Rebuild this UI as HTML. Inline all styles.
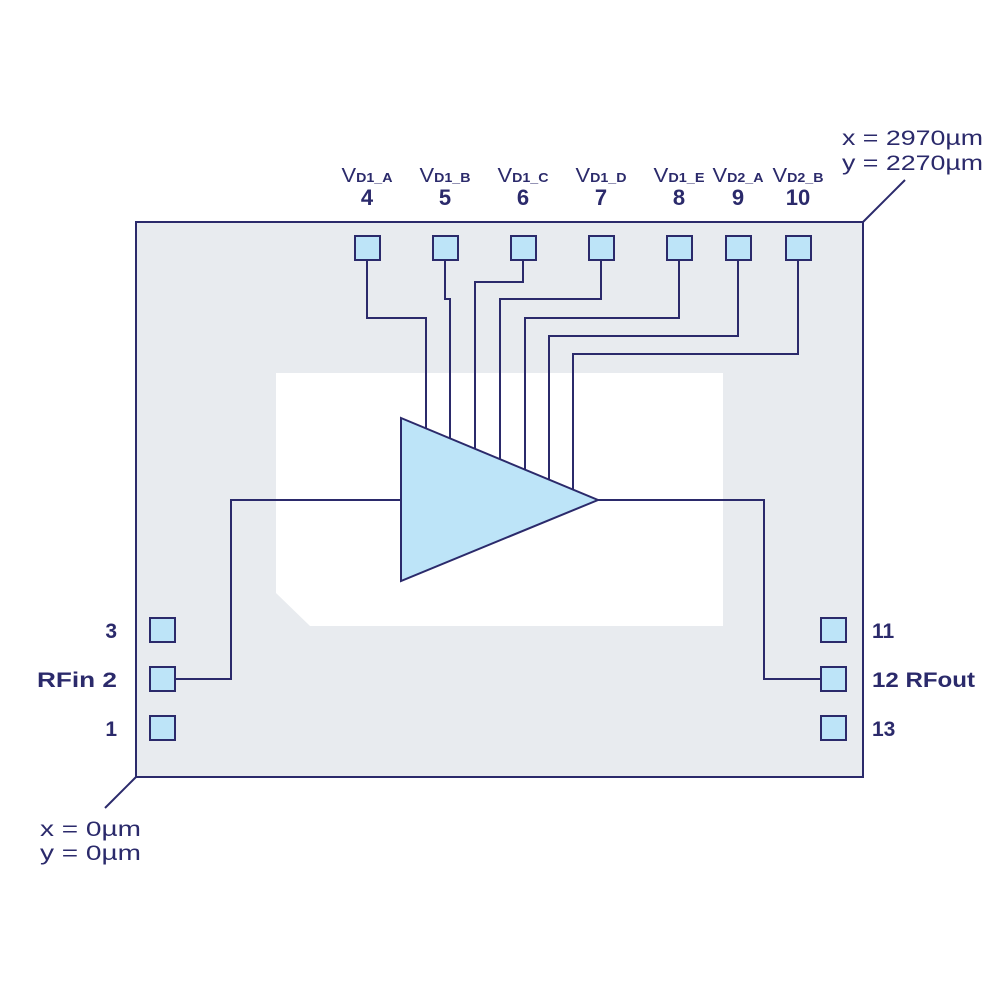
<!DOCTYPE html>
<html><head><style>
body{margin:0;background:#fff}
svg text{font-family:"Liberation Sans",sans-serif;fill:#2b2a6b}
</style></head><body>
<svg width="1000" height="1000" viewBox="0 0 1000 1000" xmlns="http://www.w3.org/2000/svg">
<rect x="136" y="222" width="727" height="555" fill="#e8ebef" stroke="#2b2a6b" stroke-width="2"/>
<polygon points="276,373 723,373 723,626 310,626 276,593" fill="#fff"/>
<g fill="none" stroke="#2b2a6b" stroke-width="2">
<polyline points="367,260 367,318 426,318 426,430"/>
<polyline points="445,260 445,299 450,299 450,440"/>
<polyline points="523,260 523,282 475,282 475,450"/>
<polyline points="601,260 601,299 500,299 500,460"/>
<polyline points="679,260 679,318 525,318 525,470"/>
<polyline points="738,260 738,336 549,336 549,480"/>
<polyline points="798,260 798,354 573,354 573,490"/>
<polyline points="175,679 231,679 231,500 401,500"/>
<polyline points="598,500 764,500 764,679 821,679"/>
<line x1="863" y1="222" x2="905" y2="180"/>
<line x1="136" y1="777" x2="105" y2="808"/>
</g>
<polygon points="401,418 598,500 401,581" fill="#bde4f8" stroke="#2b2a6b" stroke-width="2"/>
<g fill="#bde4f8" stroke="#2b2a6b" stroke-width="2">
<rect x="355" y="236" width="25" height="24"/>
<rect x="433" y="236" width="25" height="24"/>
<rect x="511" y="236" width="25" height="24"/>
<rect x="589" y="236" width="25" height="24"/>
<rect x="667" y="236" width="25" height="24"/>
<rect x="726" y="236" width="25" height="24"/>
<rect x="786" y="236" width="25" height="24"/>
<rect x="150" y="618" width="25" height="24"/>
<rect x="150" y="667" width="25" height="24"/>
<rect x="150" y="716" width="25" height="24"/>
<rect x="821" y="618" width="25" height="24"/>
<rect x="821" y="667" width="25" height="24"/>
<rect x="821" y="716" width="25" height="24"/>
</g>
<g font-size="20" text-anchor="middle">
<text x="367" y="182" textLength="51" lengthAdjust="spacingAndGlyphs">V<tspan font-size="13" font-weight="bold">D1_A</tspan></text>
<text x="445" y="182" textLength="51" lengthAdjust="spacingAndGlyphs">V<tspan font-size="13" font-weight="bold">D1_B</tspan></text>
<text x="523" y="182" textLength="51" lengthAdjust="spacingAndGlyphs">V<tspan font-size="13" font-weight="bold">D1_C</tspan></text>
<text x="601" y="182" textLength="51" lengthAdjust="spacingAndGlyphs">V<tspan font-size="13" font-weight="bold">D1_D</tspan></text>
<text x="679" y="182" textLength="51" lengthAdjust="spacingAndGlyphs">V<tspan font-size="13" font-weight="bold">D1_E</tspan></text>
<text x="738" y="182" textLength="51" lengthAdjust="spacingAndGlyphs">V<tspan font-size="13" font-weight="bold">D2_A</tspan></text>
<text x="798" y="182" textLength="51" lengthAdjust="spacingAndGlyphs">V<tspan font-size="13" font-weight="bold">D2_B</tspan></text>
</g>
<g font-size="22" font-weight="bold" text-anchor="middle">
<text x="367" y="205">4</text><text x="445" y="205">5</text><text x="523" y="205">6</text>
<text x="601" y="205">7</text><text x="679" y="205">8</text><text x="738" y="205">9</text>
<text x="798" y="205">10</text>
</g>
<g font-size="21" font-weight="bold">
<text x="117" y="638" text-anchor="end">3</text>
<text x="37" y="687" textLength="80" lengthAdjust="spacingAndGlyphs">RFin  2</text>
<text x="117" y="736" text-anchor="end">1</text>
<text x="872" y="638">11</text>
<text x="872" y="687" textLength="103" lengthAdjust="spacingAndGlyphs">12 RFout</text>
<text x="872" y="736">13</text>
</g>
<g font-size="21">
<text x="842" y="145" textLength="141" lengthAdjust="spacingAndGlyphs">x = 2970µm</text>
<text x="842" y="170" textLength="141" lengthAdjust="spacingAndGlyphs">y = 2270µm</text>
<text x="40" y="836" textLength="101" lengthAdjust="spacingAndGlyphs">x = 0µm</text>
<text x="40" y="860" textLength="101" lengthAdjust="spacingAndGlyphs">y = 0µm</text>
</g>
</svg>
</body></html>
